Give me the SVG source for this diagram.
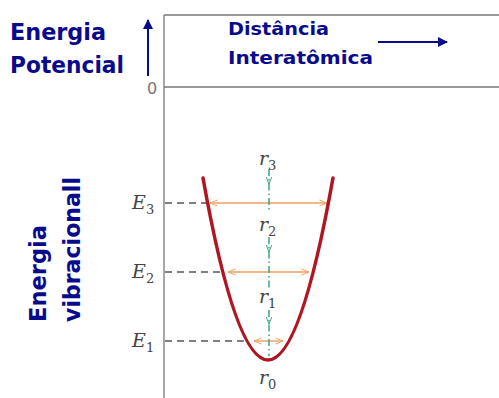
<svg xmlns="http://www.w3.org/2000/svg" width="499" height="398" viewBox="0 0 499 398">
<style>
.blue{font-family:"DejaVu Sans",sans-serif;font-weight:bold;fill:#0a0a8c}
.math{font-family:"DejaVu Serif","Liberation Serif",serif;font-style:italic;fill:#444}
.sub{font-family:"DejaVu Serif","Liberation Serif",serif;font-size:13px;fill:#444}
.dash{stroke:#555;stroke-width:1.3;stroke-dasharray:7,5;fill:none}
.orange{stroke:#f0a060;stroke-width:1.4;fill:none}
.green{stroke:#2e9e80;stroke-width:1.4;fill:none;stroke-dasharray:7,3,1.5,3}
</style>
<defs>
<marker id="bluehead" viewBox="0 0 10 10" refX="9" refY="5" markerWidth="5.5" markerHeight="5" orient="auto" markerUnits="strokeWidth">
<path d="M0,0 L10,5 L0,10 z" fill="#0a0a8c"/>
</marker>
<marker id="ohead" viewBox="0 0 12 10" refX="11" refY="5" markerWidth="9" markerHeight="7.5" orient="auto-start-reverse" markerUnits="userSpaceOnUse">
<path d="M1,1 L11,5 L1,9" fill="none" stroke="#f0a060" stroke-width="1.3"/>
</marker>
<marker id="ghead" viewBox="0 0 10 12" refX="5" refY="11" markerWidth="7" markerHeight="9" orient="0" markerUnits="userSpaceOnUse">
<path d="M1,1 L5,11 L9,1" fill="none" stroke="#2e9e80" stroke-width="1.3"/>
</marker>
</defs>

<g id="frame">
<line x1="164" y1="15" x2="499" y2="15" stroke="#777" stroke-width="1.3"/>
<line x1="164" y1="87" x2="499" y2="87" stroke="#777" stroke-width="1.3"/>
<line x1="164" y1="15" x2="164" y2="398" stroke="#777" stroke-width="1.3"/>
<text x="152" y="94" font-family="DejaVu Sans,sans-serif" font-size="16" fill="#777" text-anchor="middle">0</text>
</g>

<g id="label-energia-potencial">
<text class="blue" x="10" y="40" font-size="23" textLength="96" lengthAdjust="spacingAndGlyphs">Energia</text>
<text class="blue" x="10" y="73" font-size="23" textLength="114" lengthAdjust="spacingAndGlyphs">Potencial</text>
<line x1="148" y1="76" x2="148" y2="20" stroke="#0a0a8c" stroke-width="2" marker-end="url(#bluehead)"/>
</g>

<g id="label-distancia">
<text class="blue" x="228" y="35" font-size="18" textLength="101" lengthAdjust="spacingAndGlyphs">Distância</text>
<text class="blue" x="228" y="64" font-size="18" textLength="145" lengthAdjust="spacingAndGlyphs">Interatômica</text>
<line x1="378" y1="42" x2="447" y2="42" stroke="#0a0a8c" stroke-width="2" marker-end="url(#bluehead)"/>
</g>

<g id="label-energia-vibracional">
<text class="blue" transform="translate(46,322) rotate(-90)" font-size="23" textLength="97" lengthAdjust="spacingAndGlyphs">Energia</text>
<text class="blue" transform="translate(80,322) rotate(-90)" font-size="23" textLength="145" lengthAdjust="spacingAndGlyphs">vibracionall</text>
</g>

<g id="levels">
<text class="math" x="132" y="209" font-size="19">E</text><text class="sub" x="146" y="214">3</text>
<text class="math" x="132" y="278" font-size="19">E</text><text class="sub" x="146" y="283">2</text>
<text class="math" x="132" y="347" font-size="19">E</text><text class="sub" x="146" y="352">1</text>
</g>

<g id="connectors">
<line class="dash" x1="165" y1="203" x2="208" y2="203"/>
<line class="dash" x1="165" y1="272" x2="224" y2="272"/>
<line class="dash" x1="165" y1="341" x2="248" y2="341"/>
<line class="orange" x1="210" y1="203" x2="327" y2="203" marker-start="url(#ohead)" marker-end="url(#ohead)"/>
<line class="orange" x1="228" y1="272" x2="309" y2="272" marker-start="url(#ohead)" marker-end="url(#ohead)"/>
<line class="orange" x1="254" y1="341" x2="283" y2="341" marker-start="url(#ohead)" marker-end="url(#ohead)"/>
<line class="green" x1="269" y1="169" x2="269" y2="212"/>
<line class="green" x1="269" y1="237" x2="269" y2="288"/>
<line class="green" x1="269" y1="310" x2="269" y2="356"/>
<path d="M269,170 L269,184" stroke="none" fill="none" marker-end="url(#ghead)"/>
<path d="M269,238 L269,252" stroke="none" fill="none" marker-end="url(#ghead)"/>
<path d="M269,310 L269,324" stroke="none" fill="none" marker-end="url(#ghead)"/>
</g>

<g id="curve">
<path d="M203,178 Q268,542 333,178" fill="none" stroke="#b01522" stroke-width="3.5" stroke-linecap="round"/>
</g>

<g id="r-labels">
<text class="math" x="259" y="165" font-size="19">r</text><text class="sub" x="268" y="170">3</text>
<text class="math" x="259" y="231" font-size="19">r</text><text class="sub" x="268" y="236">2</text>
<text class="math" x="259" y="303" font-size="19">r</text><text class="sub" x="268" y="308">1</text>
<text class="math" x="259" y="384" font-size="19">r</text><text class="sub" x="268" y="389">0</text>
</g>
</svg>
